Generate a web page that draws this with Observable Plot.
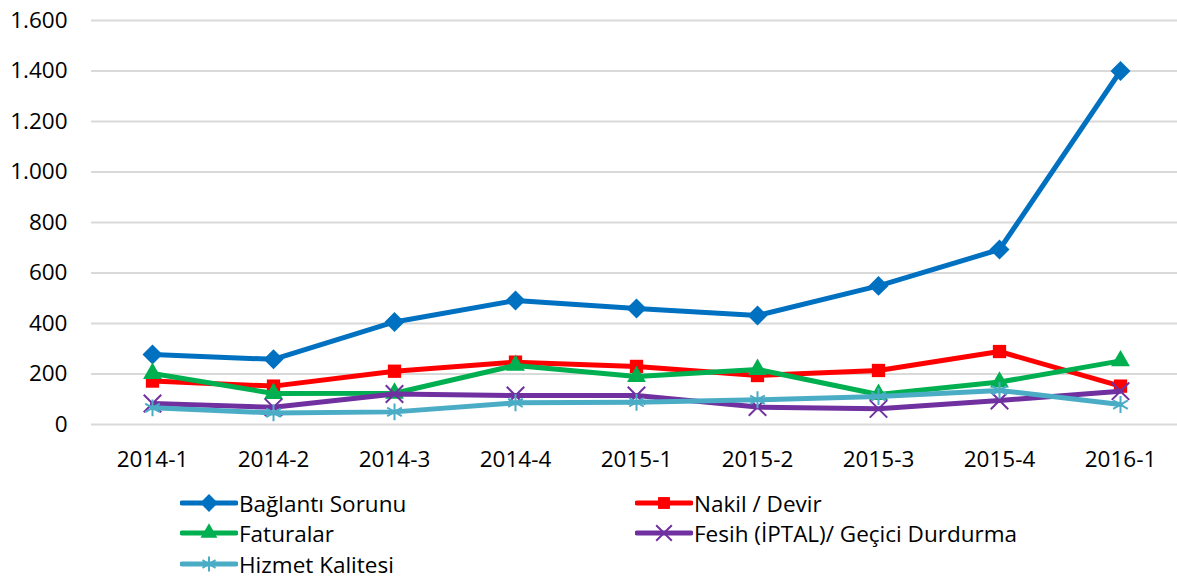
<!DOCTYPE html>
<html><head><meta charset="utf-8">
<script src="https://cdn.jsdelivr.net/npm/d3@7"></script>
<script src="https://cdn.jsdelivr.net/npm/@observablehq/plot@0.6"></script>
<style>
body{margin:0;background:#fff;font-family:"Open Sans",sans-serif;}
#legend{position:relative;height:94px;width:1177px;}
.item{position:absolute;display:flex;align-items:center;font-size:22.5px;color:#000;height:30px;}
.item svg{margin-right:1px;}
</style></head><body>
<div id="chart"></div><div id="legend"></div>
<script>
const periods = ["2014-1","2014-2","2014-3","2014-4","2015-1","2015-2","2015-3","2015-4","2016-1"];
const seriesNames = ["Bağlantı Sorunu","Nakil / Devir","Faturalar","Fesih (İPTAL)/ Geçici Durdurma","Hizmet Kalitesi"];
const baglanti = [277, 258, 406, 491, 459, 432, 549, 693, 1400];
const nakil    = [172, 152, 211, 247, 230, 194, 214, 289, 152];
const faturalar= [202, 123, 124, 234, 190, 218, 119, 168, 252];
const fesih    = [83, 68, 121, 115, 115, 69, 62, 95, 132];
const hizmet   = [66, 46, 50, 86, 88, 98, 111, 135, 79];
const yTicks = [0,200,400,600,800,1000,1200,1400,1600];

const colors = ["#0070C0","#FF0000","#00B050","#7030A0","#4BACC6"];
const symbols = ["diamond2","square","triangle","times","asterisk"];
const filled = [true,true,true,false,false];
const radii = [9,7.5,7,8,8];
const allValues = [baglanti,nakil,faturalar,fesih,hizmet];

const data = seriesNames.map((s,i)=>periods.map((p,j)=>({series:s,period:p,value:allValues[i][j]})));

const fmt = d3.formatLocale({decimal:",",thousands:".",grouping:[3],currency:["",""]}).format(",");

const marks = [Plot.gridY(yTicks,{stroke:"#d9d9d9",strokeOpacity:1,strokeWidth:2})];
data.forEach((d,i)=>{
  marks.push(Plot.lineY(d,{x:"period",y:"value",stroke:colors[i],strokeWidth:5,strokeLinejoin:"round"}));
  marks.push(Plot.dot(d,filled[i]
    ? {x:"period",y:"value",symbol:()=>symbols[i],fill:colors[i],r:radii[i],stroke:"none"}
    : {x:"period",y:"value",symbol:()=>symbols[i],stroke:colors[i],strokeWidth:2,r:radii[i],fill:"none"}));
});

const chart = Plot.plot({
  width:1177,height:485,marginLeft:91,marginRight:0,marginTop:20,marginBottom:61,
  x:{type:"point",domain:periods,range:[151,1121],padding:0,label:null,tickSize:0,tickPadding:27},
  y:{domain:[0,1600],ticks:yTicks,tickFormat:fmt,label:null,tickSize:0,tickPadding:24},
  symbol:{type:"identity"},
  style:{fontFamily:"Open Sans",fontSize:"22.5px",color:"#000",background:"#fff"},
  marks
});
document.getElementById("chart").appendChild(chart);

// legend
const legend = d3.select("#legend");
const pos = [[180,18],[635,18],[180,48],[635,48],[180,79]];
const symMap = {diamond2:d3.symbolDiamond2,square:d3.symbolSquare,triangle:d3.symbolTriangle,times:d3.symbolTimes,asterisk:d3.symbolAsterisk};
seriesNames.forEach((s,i)=>{
  const it = legend.append("div").attr("class","item")
    .style("left",pos[i][0]+"px").style("top",(pos[i][1]-15)+"px");
  const sv = it.append("svg").attr("width",58).attr("height",30);
  sv.append("line").attr("x1",2).attr("x2",56).attr("y1",15).attr("y2",15)
    .attr("stroke",colors[i]).attr("stroke-width",5).attr("stroke-linecap","round");
  const p = d3.symbol(symMap[symbols[i]], Math.PI*radii[i]*radii[i]*0.8)();
  const g = sv.append("path").attr("d",p).attr("transform","translate(29,15)");
  if (filled[i]) g.attr("fill",colors[i]); else g.attr("fill","none").attr("stroke",colors[i]).attr("stroke-width",2);
  it.append("span").text(s);
});
</script>
</body></html>
